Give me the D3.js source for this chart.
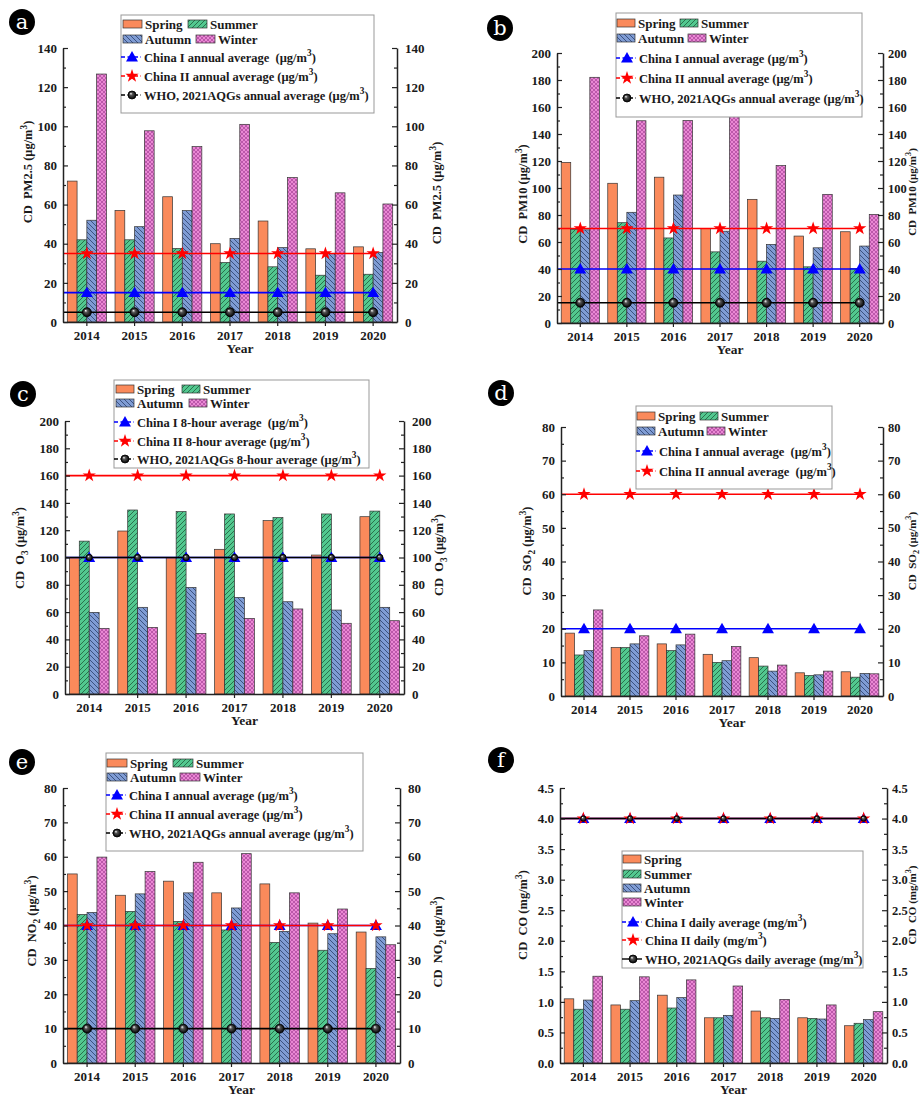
<!DOCTYPE html>
<html>
<head>
<meta charset="utf-8">
<script src="https://cdn.jsdelivr.net/npm/d3@7"></script>
<style>
body { margin: 0; background: #fff; }
svg text { font-family: "Liberation Serif", "Times New Roman", serif; font-weight: bold; fill: #1a1a1a; white-space: pre; }
</style>
</head>
<body>
<div id="viz-container"></div>
<script>
// shared categories
const years = [2014, 2015, 2016, 2017, 2018, 2019, 2020];
const seasons = ["Spring", "Summer", "Autumn", "Winter"];

// (a) PM2.5
const pm25Spring = [72, 57, 64, 40, 51.6, 37.4, 38.4];
const pm25Summer = [42, 42, 37.6, 30.4, 28.2, 23.9, 24.4];
const pm25Autumn = [52, 48.7, 56.9, 42.7, 38, 35, 35.5];
const pm25Winter = [126.7, 97.7, 89.6, 101, 73.8, 66, 60.3];
const pm25Limits = [15, 35, 5];
const pm25LimitNames = ["China I annual average  (μg/m^3)", "China II annual average (μg/m^3)", "WHO, 2021AQGs annual average (μg/m^3)"];

// (b) PM10
const pm10Spring = [119, 103.5, 108, 70, 91.6, 64.4, 67.6];
const pm10Summer = [69.3, 74.3, 63, 52.7, 45.8, 41.6, 40.3];
const pm10Autumn = [69, 82, 94.8, 68, 58.2, 55.7, 57];
const pm10Winter = [182, 149.8, 150, 153, 116.6, 95.3, 80.4];
const pm10Limits = [40, 70, 15];
const pm10LimitNames = ["China I annual average (μg/m^3)", "China II annual average (μg/m^3)", "WHO, 2021AQGs annual average (μg/m^3)"];

// (c) O3
const o3Spring = [100.1, 119.4, 99.9, 106, 127, 101.8, 129.9];
const o3Summer = [112, 134.8, 133.6, 131.9, 129.2, 131.9, 134];
const o3Autumn = [59.8, 63.5, 78.1, 70.8, 67.6, 61.5, 63.5];
const o3Winter = [48.1, 48.8, 44.4, 55.4, 62.3, 51.8, 53.7];
const o3Limits = [100, 160, 100];
const o3LimitNames = ["China I 8-hour average  (μg/m^3)", "China II 8-hour average (μg/m^3)", "WHO, 2021AQGs 8-hour average (μg/m^3)"];

// (d) SO2
const so2Spring = [18.7, 14.4, 15.5, 12.4, 11.4, 6.9, 7.2];
const so2Summer = [12.2, 14.4, 13.5, 10, 8.9, 6.1, 5.6];
const so2Autumn = [13.5, 15.5, 15.2, 10.5, 7.4, 6.3, 6.7];
const so2Winter = [25.6, 17.9, 18.4, 14.7, 9.2, 7.4, 6.6];
const so2Limits = [20, 60];
const so2LimitNames = ["China I annual average  (μg/m^3)", "China II annual average  (μg/m^3)"];

// (e) NO2
const no2Spring = [55, 48.8, 52.9, 49.5, 52.1, 40.7, 38.1];
const no2Summer = [43.2, 44.1, 41.2, 38.7, 35.1, 32.8, 27.5];
const no2Autumn = [43.8, 49.2, 49.5, 45.1, 38.3, 37.6, 36.7];
const no2Winter = [59.9, 55.7, 58.4, 60.9, 49.5, 44.8, 34.4];
const no2Limits = [40, 40, 10];
const no2LimitNames = ["China I annual average (μg/m^3)", "China II annual average (μg/m^3)", "WHO, 2021AQGs annual average (μg/m^3)"];

// (f) CO
const coSpring = [1.05, 0.95, 1.11, 0.74, 0.85, 0.74, 0.61];
const coSummer = [0.88, 0.88, 0.9, 0.74, 0.74, 0.73, 0.65];
const coAutumn = [1.03, 1.02, 1.07, 0.78, 0.73, 0.72, 0.71];
const coWinter = [1.42, 1.41, 1.36, 1.26, 1.04, 0.95, 0.84];
const coLimits = [4, 4, 4];
const coLimitNames = ["China I daily average (mg/m^3)", "China II daily (mg/m^3)", "WHO, 2021AQGs daily average (mg/m^3)"];

const seasonFill = ["#fa8a5b", "url(#hatchSummer)", "url(#hatchAutumn)", "url(#hatchWinter)"];
const limitColor = ["#0000ff", "#ff0000", "#000000"];

let svg = d3.select("#viz-container")
  .append("svg")
    .attr("width", 920)
    .attr("height", 1096);

// patterns
let defs = svg.append("defs");
function hatch(id, bg, path, stroke, size, sw) {
  let pt = defs.append("pattern")
    .attr("id", id)
    .attr("patternUnits", "userSpaceOnUse")
    .attr("width", size).attr("height", size);
  pt.append("rect").attr("width", size).attr("height", size).attr("fill", bg);
  pt.append("path").attr("d", path).attr("stroke", stroke).attr("stroke-width", sw).attr("fill", "none");
}
hatch("hatchSummer", "#52c88f", "M0,5 L5,0 M-1,1 L1,-1 M4,6 L6,4", "#1f5a3c", 5, 0.8);
hatch("hatchAutumn", "#7f9cd4", "M0,0 L5,5 M-1,4 L1,6 M4,-1 L6,1", "#2b3f6b", 5, 0.8);
hatch("hatchWinter", "#ea88d4", "M0,0 L4,4 M-1,3 L1,5 M3,-1 L5,1 M0,4 L4,0 M-1,1 L1,-1 M3,5 L5,3", "#a8449a", 4, 0.7);

let ball = defs.append("radialGradient").attr("id", "ball").attr("fx", 0.35).attr("fy", 0.3);
ball.append("stop").attr("offset", "0%").attr("stop-color", "#ffffff");
ball.append("stop").attr("offset", "35%").attr("stop-color", "#555");
ball.append("stop").attr("offset", "100%").attr("stop-color", "#000");

// text with ^x superscript and _x subscript
function rich(sel, str, size) {
  let parts = [];
  let re = /([\^_])(\w)/g, last = 0, m;
  while ((m = re.exec(str)) !== null) {
    if (m.index > last) parts.push({t: str.slice(last, m.index), s: 0});
    parts.push({t: m[2], s: m[1] == "^" ? -1 : 1});
    last = re.lastIndex;
  }
  if (last < str.length) parts.push({t: str.slice(last), s: 0});
  let prev = 0;
  parts.forEach(function(p){
    let off = p.s == -1 ? -size * 0.42 : (p.s == 1 ? size * 0.3 : 0);
    let ts = sel.append("tspan").attr("dy", off - prev).text(p.t);
    if (p.s != 0) ts.attr("font-size", size * 0.75);
    prev = off;
  });
}

function marker(g, kind, cx, cy, r) {
  if (kind == 0) {
    g.append("path").attr("d", d3.symbol(d3.symbolTriangle, 62)())
      .attr("transform", `translate(${cx},${cy + 1})`).attr("fill", "#0000ff");
  } else if (kind == 1) {
    g.append("path").attr("d", d3.symbol(d3.symbolStar, 55)())
      .attr("transform", `translate(${cx},${cy})`).attr("fill", "#ff0000");
  } else {
    g.append("circle").attr("cx", cx).attr("cy", cy).attr("r", r)
      .attr("fill", "url(#ball)").attr("stroke", "#000").attr("stroke-width", 0.8);
  }
}

function drawPanel(p) {
  let g = svg.append("g");
  let x = d3.scaleBand().domain(years).range([p.L, p.R]).paddingInner(0.18).paddingOuter(0.09);
  let sub = d3.scaleBand().domain(seasons).range([0, x.bandwidth()]);
  let y = d3.scaleLinear().domain([0, p.max]).range([p.B, p.T]);

  // bars
  p.series.forEach(function(vals, si){
    g.selectAll(".bar" + si).data(vals).enter()
      .append("rect")
        .attr("x", (d, i) => x(years[i]) + sub(seasons[si]))
        .attr("y", d => y(d))
        .attr("width", sub.bandwidth())
        .attr("height", d => p.B - y(d))
        .attr("fill", seasonFill[si])
        .attr("stroke", "#333")
        .attr("stroke-width", 0.7);
  });

  // limit lines
  let cx = yr => x(yr) + x.bandwidth() / 2;
  p.limits.forEach(function(v, k){
    g.append("line")
      .attr("x1", p.L).attr("x2", cx(years[years.length - 1]))
      .attr("y1", y(v)).attr("y2", y(v))
      .attr("stroke", limitColor[k]).attr("stroke-width", 1.6);
  });
  p.limits.forEach(function(v, k){
    years.forEach(yr => marker(g, k, cx(yr), y(v), p.ballR));
  });

  // axes
  let ticks = d3.range(0, p.max + p.step / 2, p.step);
  let minors = d3.range(p.step / 2, p.max, p.step);
  g.append("g").attr("transform", `translate(${p.L},0)`)
    .call(d3.axisLeft(y).tickValues(ticks).tickSizeInner(-5).tickSizeOuter(0).tickPadding(6).tickFormat(p.fmt))
    .selectAll("text").style("font-size", "13px");
  g.append("g").attr("transform", `translate(${p.R},0)`)
    .call(d3.axisRight(y).tickValues(ticks).tickSizeInner(-5).tickSizeOuter(0).tickPadding(p.edge ? 5 : 8).tickFormat(p.fmt))
    .selectAll("text").style("font-size", p.edge ? "12.5px" : "13px");
  g.append("g").attr("transform", `translate(${p.L},0)`)
    .call(d3.axisLeft(y).tickValues(minors).tickSizeInner(-3).tickSizeOuter(0).tickFormat(""))
    .select(".domain").remove();
  g.append("g").attr("transform", `translate(${p.R},0)`)
    .call(d3.axisRight(y).tickValues(minors).tickSizeInner(-3).tickSizeOuter(0).tickFormat(""))
    .select(".domain").remove();
  g.append("g").attr("transform", `translate(0,${p.B})`)
    .call(d3.axisBottom(x).tickSizeInner(4).tickSizeOuter(0).tickPadding(5))
    .selectAll("text").style("font-size", "13px");
  g.selectAll(".domain").attr("stroke", "#222").attr("stroke-width", 1.5);
  g.selectAll(".tick line").attr("stroke", "#222").attr("stroke-width", 1.2);
  g.selectAll(".tick text").attr("font-family", null);

  // titles
  g.append("text").attr("x", (p.L + p.R) / 2 + 10).attr("y", p.B + 31)
    .attr("text-anchor", "middle").style("font-size", "13.5px").text("Year");
  let lt = g.append("text").attr("text-anchor", "middle").style("font-size", "12.5px")
    .attr("transform", `translate(${p.lx},${p.ly}) rotate(-90)`);
  rich(lt, p.title, 12.5);
  let rs = p.edge ? 11 : 12.5;
  let rt = g.append("text").attr("text-anchor", "middle").style("font-size", rs + "px")
    .attr("transform", `translate(${p.rx},${p.ry}) rotate(-90)`);
  rich(rt, p.title, rs);

  // legend
  let lg = p.legend;
  g.append("rect").attr("x", lg.box[0]).attr("y", lg.box[1])
    .attr("width", lg.box[2] - lg.box[0]).attr("height", lg.box[3] - lg.box[1])
    .attr("fill", "#fff").attr("stroke", "#999").attr("stroke-width", 1);
  seasons.forEach(function(s, si){
    let pos = lg.seasons[si];
    g.append("rect").attr("x", pos[0]).attr("y", pos[1] - 4).attr("width", lg.sw).attr("height", 8)
      .attr("fill", seasonFill[si]).attr("stroke", "#333").attr("stroke-width", 0.7);
    g.append("text").attr("x", pos[0] + lg.sw + 3).attr("y", pos[1] + 4.5)
      .style("font-size", "13px").text(s);
  });
  p.limitNames.forEach(function(name, k){
    let ry = lg.rows[k];
    g.append("line").attr("x1", lg.lx).attr("x2", lg.lx + 20).attr("y1", ry).attr("y2", ry)
      .attr("stroke", limitColor[k]).attr("stroke-width", 1.4).attr("stroke-dasharray", k == 2 && p.id == "f" ? null : "4,2.5");
    marker(g, k, lg.lx + 11, ry, 4);
    let t = g.append("text").attr("x", lg.lx + 23).attr("y", ry + 4.5).style("font-size", "12.5px");
    rich(t, name, 12.5);
  });

  // panel letter
  svg.append("circle").attr("cx", p.cx).attr("cy", p.cy).attr("r", 13).attr("fill", "#000");
  svg.append("text").attr("x", p.cx).attr("y", p.cy + 7).attr("text-anchor", "middle")
    .style("font-family", "'DejaVu Serif', serif").style("font-weight", "normal")
    .style("font-size", "21px").style("fill", "#fff").text(p.id);
}

const fmtInt = d3.format("d");
const fmt1 = d3.format(".1f");

const panels = [
  {id: "a", cx: 22, cy: 22, L: 63, R: 397, T: 48, B: 322, max: 140, step: 20, fmt: fmtInt, ballR: 4.5,
   series: [pm25Spring, pm25Summer, pm25Autumn, pm25Winter], limits: pm25Limits, limitNames: pm25LimitNames,
   title: "CD  PM2.5 (μg/m^3)", lx: 32, ly: 172, rx: 441, ry: 193,
   legend: {box: [121, 15, 374, 113], sw: 19, seasons: [[123, 24], [188, 24], [123, 39], [196, 39]], lx: 121, rows: [57, 76, 95]}},
  {id: "b", cx: 500, cy: 28, L: 557, R: 883, T: 53, B: 323, max: 200, step: 20, fmt: fmtInt, ballR: 4.5, edge: true,
   series: [pm10Spring, pm10Summer, pm10Autumn, pm10Winter], limits: pm10Limits, limitNames: pm10LimitNames,
   title: "CD  PM10 (μg/m^3)", lx: 527, ly: 194, rx: 916, ry: 192,
   legend: {box: [616, 13, 862, 117], sw: 18, seasons: [[617, 23], [680, 23], [617, 38], [688, 38]], lx: 616, rows: [58, 78, 98]}},
  {id: "c", cx: 23, cy: 394, L: 65, R: 404, T: 421, B: 694, max: 200, step: 20, fmt: fmtInt, ballR: 3.2,
   series: [o3Spring, o3Summer, o3Autumn, o3Winter], limits: o3Limits, limitNames: o3LimitNames,
   title: "CD  O_3 (μg/m^3)", lx: 24, ly: 548, rx: 443, ry: 555,
   legend: {box: [114, 380, 369, 468], sw: 18, seasons: [[116, 389], [182, 389], [116, 403], [189, 403]], lx: 114, rows: [422, 441, 459]}},
  {id: "d", cx: 501, cy: 393, L: 561, R: 883, T: 427, B: 696, max: 80, step: 10, fmt: fmtInt, ballR: 4.5, edge: true,
   series: [so2Spring, so2Summer, so2Autumn, so2Winter], limits: so2Limits, limitNames: so2LimitNames,
   title: "CD  SO_2 (μg/m^3)", lx: 531, ly: 551, rx: 916, ry: 551,
   legend: {box: [636, 406, 832, 489], sw: 18, seasons: [[637, 416], [700, 416], [637, 431], [707, 431]], lx: 636, rows: [451, 471]}},
  {id: "e", cx: 22, cy: 762, L: 63, R: 400, T: 788, B: 1063, max: 80, step: 10, fmt: fmtInt, ballR: 4.5,
   series: [no2Spring, no2Summer, no2Autumn, no2Winter], limits: no2Limits, limitNames: no2LimitNames,
   title: "CD  NO_2 (μg/m^3)", lx: 36, ly: 921, rx: 442, ry: 942,
   legend: {box: [106, 753, 363, 851], sw: 20, seasons: [[107, 763], [173, 763], [107, 777], [180, 777]], lx: 106, rows: [795, 814, 833]}},
  {id: "f", cx: 501, cy: 760, L: 560, R: 887, T: 788, B: 1063, max: 4.5, step: 0.5, fmt: fmt1, ballR: 2.8, edge: true,
   series: [coSpring, coSummer, coAutumn, coWinter], limits: coLimits, limitNames: coLimitNames,
   title: "CD  CO (mg/m^3)", lx: 527, ly: 915, rx: 916, ry: 905,
   legend: {box: [622, 851, 863, 968], sw: 18, seasons: [[623, 859], [623, 874], [623, 888], [623, 902]], lx: 622, rows: [922, 940, 959]}}
];

panels.forEach(drawPanel);
</script>
</body>
</html>
